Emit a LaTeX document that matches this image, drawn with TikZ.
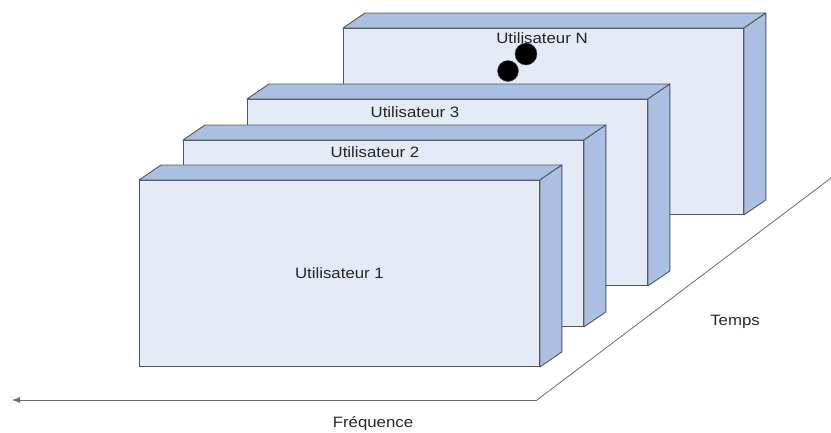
\documentclass[tikz,border=0pt]{standalone}
\usepackage{fontspec}
\usetikzlibrary{arrows.meta, positioning, calc}
\newfontfamily\diagfont[FakeStretch=1.12]{Liberation Sans}
\definecolor{faceblue}{RGB}{228, 234, 246}
\definecolor{edgeblue}{RGB}{170, 192, 226}
\definecolor{rimgray}{RGB}{85, 85, 90}
\tikzset{
  frontface/.style={
    rectangle, draw=rimgray, fill=faceblue, line width=0.9pt,
    minimum width=400pt, minimum height=186pt, inner sep=0pt, anchor=north west
  },
  sideface/.style={
    draw=rimgray, fill=edgeblue, line width=0.9pt, line join=round
  },
  userlabel/.style={
    font=\diagfont\fontsize{15}{18}\selectfont, text=black!85, inner sep=1pt
  },
  axisline/.style={
    draw=gray!85!black, line width=0.8pt
  }
}

\begin{document}
\begin{tikzpicture}[x=1pt, y=-1pt]
  \useasboundingbox (0,0) rectangle (831,432);

  % boxes, from back to front
  \foreach \nm/\px/\py in {uN/343/28, u3/247/99, u2/183/140, u1/139/180} {
    \node[frontface] (\nm) at (\px,\py) {};
    \draw[sideface] (\nm.north west) -- ++(22,-15) -- ($(\nm.north east)+(22,-15)$) -- (\nm.north east) -- cycle;
    \draw[sideface] (\nm.north east) -- ++(22,-15) -- ($(\nm.south east)+(22,-15)$) -- (\nm.south east) -- cycle;
  }

  \node[userlabel] (lblN) at (542,38) {Utilisateur N};
  \node[userlabel] (lbl3) at (415,112) {Utilisateur 3};
  \node[userlabel] (lbl2) at (375,152) {Utilisateur 2};
  \node[userlabel] (lbl1) at (u1.center) {Utilisateur 1};

  \fill[black, draw=gray!60!black] (526,54) circle[radius=11pt];
  \fill[black, draw=gray!60!black] (508,71) circle[radius=10.5pt];

  % axes
  \coordinate (origin) at (537,400);
  \coordinate (freqend) at (12,400);
  \coordinate (timeend) at (831,178);
  \draw[axisline, -{Latex[length=8pt, width=6pt]}] (origin) -- (freqend);
  \draw[axisline] (origin) -- (timeend);

  \node[userlabel] (temps) at (735,322) {Temps};
  \node[userlabel] (freq) at (373,424) {Fréquence};
\end{tikzpicture}
\end{document}
